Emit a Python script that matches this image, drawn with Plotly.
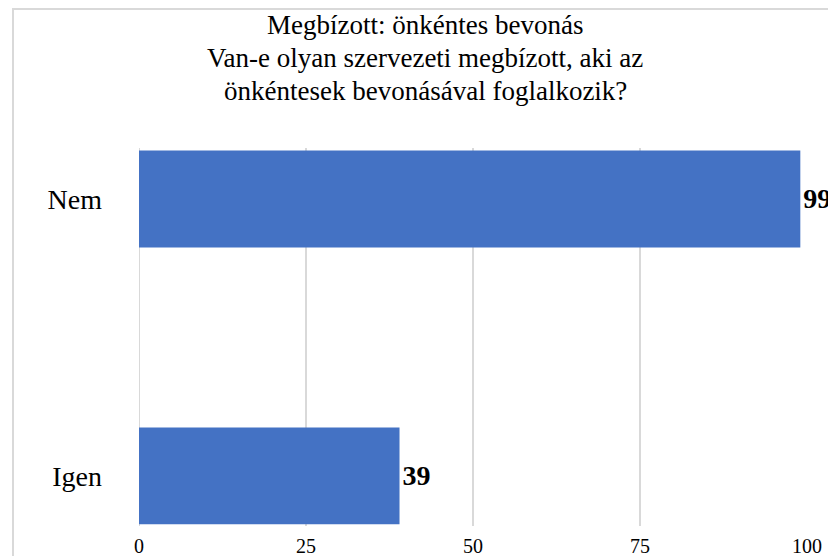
import plotly.graph_objects as go

categories = ["Igen", "Nem"]
values = [39, 99]
x_ticks = [0, 25, 50, 75, 100]
title_lines = [
    "Megbízott: önkéntes bevonás",
    "Van-e olyan szervezeti megbízott, aki az",
    "önkéntesek bevonásával foglalkozik?",
]

FONT = "Liberation Serif"
BAR_COLOR = "#4472C4"
GRID = "#D9D9D9"

fig = go.Figure(
    go.Bar(
        x=values,
        y=categories,
        orientation="h",
        marker=dict(color=BAR_COLOR, line=dict(width=0)),
        width=0.35,
        text=[f"<b>{v}</b>" for v in values],
        textposition="outside",
        textfont=dict(family=FONT, size=28, color="black"),
        constraintext="none",
        cliponaxis=False,
        hoverinfo="skip",
    )
)

# page has an 8px body margin; figure extends slightly past the viewport
OFF = 8
W, H = 836, 556
ml, mr, mt, mb = 131, 37, 140, 38
pw = W - ml - mr
ph = H - mt - mb

def px_to_paper_x(px):
    return (px - OFF - ml) / pw

def px_to_paper_y(py):
    return (H - mb - (py - OFF)) / ph

title_centers_y = [25, 58, 91]
annotations = [
    dict(
        text=line, xref="paper", yref="paper",
        x=px_to_paper_x(425), y=px_to_paper_y(cy),
        xanchor="center", yanchor="middle", showarrow=False,
        font=dict(family=FONT, size=27, color="black"),
    )
    for line, cy in zip(title_lines, title_centers_y)
]

fig.update_layout(
    width=W,
    height=H,
    margin=dict(l=ml, r=mr, t=mt, b=mb, pad=0, autoexpand=False),
    paper_bgcolor="white",
    plot_bgcolor="white",
    showlegend=False,
    font=dict(family=FONT, color="black"),
    annotations=annotations,
    xaxis=dict(
        range=[0, 100],
        tickvals=x_ticks,
        ticktext=[str(t) for t in x_ticks],
        showgrid=True,
        gridcolor=GRID,
        gridwidth=2,
        zeroline=False,
        showline=False,
        ticks="",
        ticklabelstandoff=6,
        automargin=False,
        tickfont=dict(family=FONT, size=20, color="black"),
        fixedrange=True,
    ),
    yaxis=dict(
        range=[-0.181, 1.184],
        showgrid=False,
        zeroline=False,
        showline=False,
        ticks="",
        ticklabelstandoff=36,
        automargin=False,
        tickfont=dict(family=FONT, size=28, color="black"),
        fixedrange=True,
    ),
    shapes=[
        dict(
            type="line", xref="x", yref="paper",
            x0=0, x1=0, y0=0, y1=1,
            line=dict(color=GRID, width=2), layer="below",
        ),
        dict(
            type="rect", xref="paper", yref="paper",
            x0=px_to_paper_x(13), x1=px_to_paper_x(838),
            y0=px_to_paper_y(600), y1=px_to_paper_y(9),
            line=dict(color=GRID, width=2), fillcolor="rgba(0,0,0,0)",
            layer="below",
        ),
    ],
)

fig.write_html("out.html", config={"displayModeBar": False})
